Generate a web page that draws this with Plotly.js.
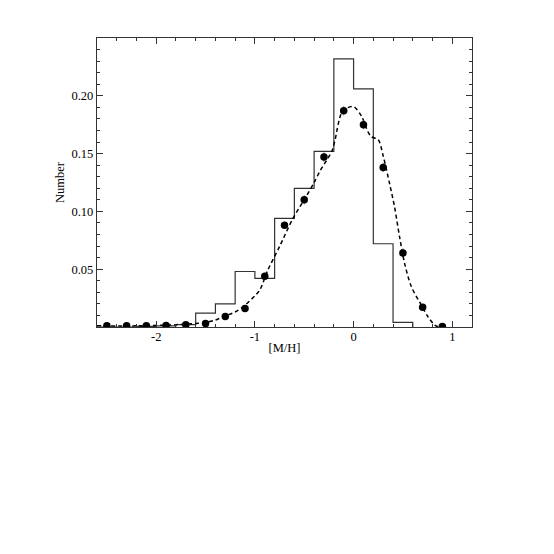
<!DOCTYPE html>
<html>
<head>
<meta charset="utf-8">
<script src="https://cdn.plot.ly/plotly-3.0.1.min.js"></script>
<style>html,body{margin:0;padding:0;background:#fff;}#chart{width:554px;height:554px;}</style>
</head>
<body>
<div id="chart"></div>
<script>
// Histogram bins (left edges, width 0.2) and heights
var binEdges = [-2.6, -2.4, -2.2, -2.0, -1.8, -1.6, -1.4, -1.2, -1.0, -0.8, -0.6, -0.4, -0.2, 0.0, 0.2, 0.4, 0.6];
var binValues = [0.0, 0.0, 0.0005, 0.001, 0.002, 0.012, 0.020, 0.048, 0.042, 0.094, 0.120, 0.152, 0.232, 0.206, 0.072, 0.004, 0.0];

// Observed points
var pointX = [-2.5, -2.3, -2.1, -1.9, -1.7, -1.5, -1.3, -1.1, -0.9, -0.7, -0.5, -0.3, -0.1, 0.1, 0.3, 0.5, 0.7, 0.9];
var pointY = [0.001, 0.001, 0.001, 0.0014, 0.002, 0.003, 0.009, 0.016, 0.044, 0.088, 0.110, 0.147, 0.187, 0.175, 0.138, 0.064, 0.017, 0.0005];
var pointErr = [0.002, 0.002, 0.002, 0.002, 0.002, 0.002, 0.003, 0.003, 0.003, 0.003, 0.004, 0.004, 0.004, 0.004, 0.004, 0.004, 0.003, 0.002];

// Dashed model curve
var curveX = [-2.6, -2.2, -1.8, -1.6, -1.5, -1.4, -1.32, -1.2, -1.12, -1.0, -0.95, -0.87, -0.75, -0.62, -0.48, -0.4, -0.34, -0.22, -0.19, -0.11, 0.0, 0.08, 0.145, 0.18, 0.25, 0.3, 0.365, 0.415, 0.466, 0.517, 0.585, 0.686, 0.753, 0.82, 0.86];
var curveY = [0.001, 0.001, 0.002, 0.003, 0.004, 0.006, 0.009, 0.013, 0.0175, 0.027, 0.032, 0.049, 0.0696, 0.093, 0.113, 0.125, 0.135, 0.152, 0.161, 0.187, 0.1906, 0.1825, 0.169, 0.1646, 0.162, 0.148, 0.124, 0.104, 0.078, 0.055, 0.035, 0.019, 0.009, 0.0017, 0.0];

var yTickVals = [0.05, 0.10, 0.15, 0.20];
var yTickText = ['0.05', '0.10', '0.15', '0.20'];
var xTickVals = [-2, -1, 0, 1];
var xTickText = ['-2', '-1', '0', '1'];

var histX = binEdges.slice();
var histY = binValues.slice();

var traces = [
  {x: histX, y: histY, type: 'scatter', mode: 'lines', line: {shape: 'hv', color: '#333', width: 1.2}, hoverinfo: 'skip'},
  {x: curveX, y: curveY, type: 'scatter', mode: 'lines', line: {shape: 'spline', smoothing: 0.8, color: '#000', width: 1.5, dash: '4px,3px'}, hoverinfo: 'skip'},
  {x: pointX, y: pointY, type: 'scatter', mode: 'markers', marker: {color: '#000', size: 7.5},
   error_y: {type: 'data', array: pointErr, visible: true, color: '#555', thickness: 0.8, width: 0}}
];

var font = {family: '"Liberation Serif", "Times New Roman", serif', size: 12.5, color: '#000'};
var layout = {
  width: 554, height: 554,
  margin: {l: 97, r: 82, t: 38, b: 227},
  showlegend: false,
  paper_bgcolor: '#fff', plot_bgcolor: '#fff',
  font: font,
  xaxis: {
    range: [-2.6, 1.2], showgrid: false, zeroline: false,
    showline: true, linecolor: '#333', linewidth: 1.2, mirror: 'allticks',
    ticks: 'inside', ticklen: 6, tickcolor: '#333', tickwidth: 1,
    tickvals: xTickVals, ticktext: xTickText, tickfont: font, ticklabelstandoff: -2,
    minor: {dtick: 0.2, tick0: 0, ticks: 'inside', ticklen: 3, tickcolor: '#333'},
    title: {text: '[M/H]', font: font, standoff: 0}
  },
  yaxis: {
    range: [0, 0.25], showgrid: false, zeroline: false,
    showline: true, linecolor: '#333', linewidth: 1.2, mirror: 'allticks',
    ticks: 'inside', ticklen: 6, tickcolor: '#333', tickwidth: 1,
    tickvals: yTickVals, ticktext: yTickText, tickfont: font,
    minor: {dtick: 0.01, tick0: 0, ticks: 'inside', ticklen: 3, tickcolor: '#333'},
    title: {text: 'Number', font: font, standoff: 4}
  }
};
Plotly.newPlot('chart', traces, layout, {displayModeBar: false, staticPlot: true});
</script>
</body>
</html>
